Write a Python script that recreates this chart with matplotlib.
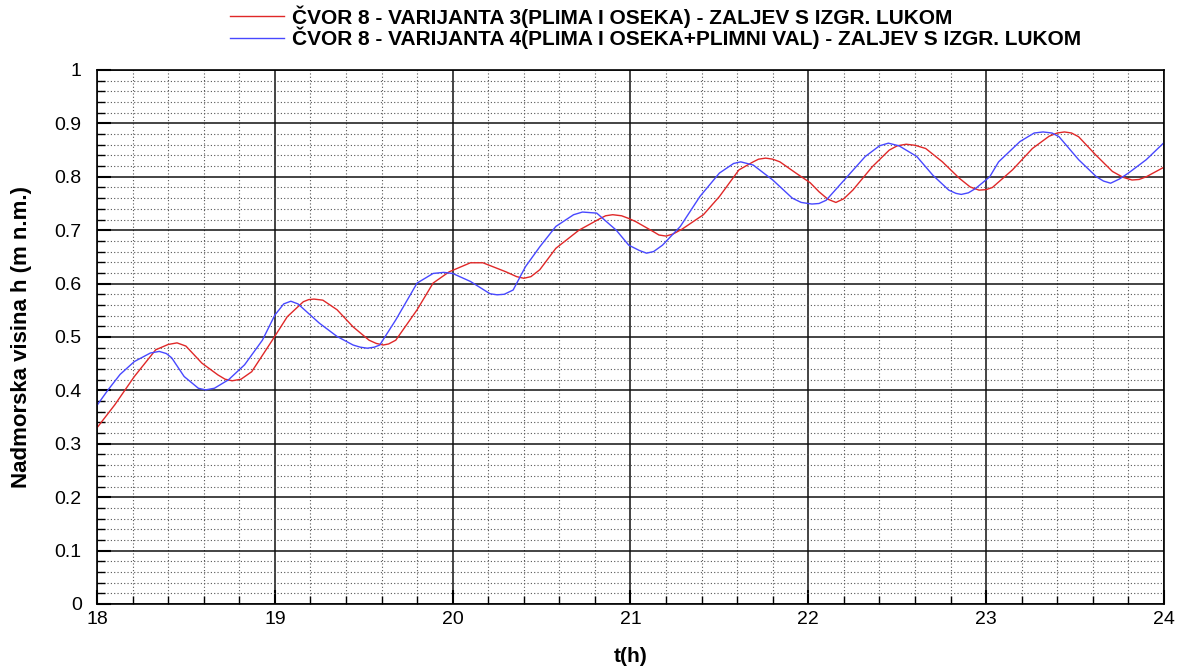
import matplotlib.pyplot as plt
from matplotlib.ticker import MultipleLocator

plt.rcParams['font.family'] = ['Liberation Sans', 'DejaVu Sans']

# vrijeme (h) i razina (m n.m.) ocitano s grafa
t_var3 = [18.00, 18.10, 18.21, 18.33, 18.40, 18.45, 18.50, 18.59, 18.68, 18.72,
          18.76, 18.81, 18.87, 18.98, 19.07, 19.16, 19.19, 19.22, 19.27, 19.35,
          19.44, 19.53, 19.57, 19.61, 19.64, 19.68, 19.80, 19.89, 19.98, 20.10,
          20.17, 20.30, 20.36, 20.40, 20.44, 20.49, 20.58, 20.71, 20.83, 20.86,
          20.90, 20.95, 20.99, 21.03, 21.13, 21.16, 21.20, 21.24, 21.29, 21.41,
          21.50, 21.61, 21.69, 21.72, 21.76, 21.80, 21.84, 21.93, 22.01, 22.06,
          22.11, 22.155, 22.20, 22.25, 22.36, 22.455, 22.50, 22.55, 22.60, 22.66,
          22.754, 22.85, 22.91, 22.96, 23.00, 23.035, 23.148, 23.26, 23.354, 23.40,
          23.44, 23.48, 23.52, 23.616, 23.71, 23.77, 23.82, 23.86, 23.90, 24.00]
h_var3 = [0.330, 0.373, 0.426, 0.476, 0.486, 0.489, 0.483, 0.451, 0.429, 0.421,
          0.418, 0.421, 0.435, 0.491, 0.538, 0.566, 0.570, 0.571, 0.569, 0.551,
          0.519, 0.494, 0.488, 0.485, 0.487, 0.494, 0.551, 0.601, 0.622, 0.639,
          0.639, 0.622, 0.613, 0.610, 0.613, 0.626, 0.666, 0.700, 0.722, 0.727,
          0.729, 0.727, 0.722, 0.716, 0.697, 0.691, 0.689, 0.693, 0.702, 0.729,
          0.763, 0.813, 0.828, 0.833, 0.835, 0.833, 0.828, 0.807, 0.789, 0.772,
          0.758, 0.752, 0.759, 0.775, 0.819, 0.850, 0.858, 0.861, 0.859, 0.853,
          0.828, 0.797, 0.781, 0.775, 0.776, 0.780, 0.813, 0.853, 0.876, 0.882,
          0.884, 0.882, 0.875, 0.841, 0.810, 0.799, 0.794, 0.795, 0.800, 0.818]

t_var4 = [18.00, 18.06, 18.13, 18.21, 18.30, 18.35, 18.39, 18.42, 18.49, 18.57,
          18.61, 18.66, 18.74, 18.83, 18.93, 19.00, 19.05, 19.09, 19.13, 19.25,
          19.35, 19.44, 19.48, 19.52, 19.56, 19.59, 19.68, 19.80, 19.89, 19.95,
          20.00, 20.10, 20.21, 20.25, 20.29, 20.34, 20.41, 20.49, 20.58, 20.68,
          20.73, 20.81, 20.92, 20.99, 21.05, 21.09, 21.13, 21.18, 21.28, 21.39,
          21.50, 21.58, 21.62, 21.69, 21.80, 21.91, 21.96, 22.02, 22.06, 22.10,
          22.21, 22.32, 22.40, 22.45, 22.51, 22.61, 22.70, 22.79, 22.83, 22.86,
          22.90, 22.94, 23.02, 23.07, 23.19, 23.27, 23.32, 23.37, 23.41, 23.52,
          23.62, 23.66, 23.70, 23.75, 23.80, 23.90, 24.00]
h_var4 = [0.372, 0.400, 0.430, 0.454, 0.470, 0.473, 0.469, 0.461, 0.426, 0.404,
          0.401, 0.404, 0.420, 0.448, 0.494, 0.541, 0.562, 0.567, 0.562, 0.526,
          0.501, 0.485, 0.481, 0.479, 0.481, 0.485, 0.532, 0.601, 0.619, 0.621,
          0.619, 0.604, 0.581, 0.579, 0.580, 0.588, 0.632, 0.669, 0.707, 0.729,
          0.734, 0.732, 0.700, 0.672, 0.662, 0.657, 0.660, 0.672, 0.707, 0.763,
          0.807, 0.825, 0.828, 0.822, 0.794, 0.760, 0.752, 0.749, 0.750, 0.756,
          0.797, 0.838, 0.858, 0.863, 0.858, 0.838, 0.803, 0.775, 0.769, 0.767,
          0.770, 0.778, 0.800, 0.828, 0.866, 0.882, 0.884, 0.882, 0.875, 0.832,
          0.800, 0.792, 0.788, 0.796, 0.807, 0.832, 0.864]

label_var3 = 'ČVOR 8 - VARIJANTA 3(PLIMA I OSEKA) - ZALJEV S IZGR. LUKOM'
label_var4 = 'ČVOR 8 - VARIJANTA 4(PLIMA I OSEKA+PLIMNI VAL) - ZALJEV S IZGR. LUKOM'

fig = plt.figure(figsize=(11.87, 6.68), dpi=100)
ax = fig.add_axes([97 / 1187, 1 - 604 / 668, 1067 / 1187, 534 / 668])

l3, = ax.plot(t_var3, h_var3, color='#e02828', lw=1.0, label=label_var3)
l4, = ax.plot(t_var4, h_var4, color='#4848ff', lw=1.0, label=label_var4)

ax.set_xlim(18, 24)
ax.set_ylim(0, 1)
ax.xaxis.set_major_locator(MultipleLocator(1))
ax.xaxis.set_minor_locator(MultipleLocator(0.2))
ax.yaxis.set_major_locator(MultipleLocator(0.1))
ax.yaxis.set_minor_locator(MultipleLocator(0.02))
ax.yaxis.set_major_formatter(plt.FuncFormatter(lambda v, p: f'{v:g}'))

ax.grid(which='major', color='#111111', lw=1.1, ls='-')
ax.grid(which='minor', color='#555555', lw=0.8, ls=(0, (1, 2)))
ax.set_axisbelow(True)

ax.tick_params(which='both', direction='in', top=False, right=False, colors='black')
ax.tick_params(which='major', length=10, width=1.5, labelsize=14)
ax.tick_params(axis='y', which='major', pad=11)
ax.tick_params(axis='x', which='major', pad=5)
ax.tick_params(which='minor', length=6, width=1)
for s in ax.spines.values():
    s.set_linewidth(1.2)

ax.set_xlabel('t(h)', fontsize=15, fontweight='bold', labelpad=14)
ax.set_ylabel('Nadmorska visina h (m n.m.)', fontsize=16, fontweight='bold', labelpad=16)

fig.legend(handles=[l3, l4], loc='upper left', bbox_to_anchor=(230 / 1187, 1 - 5 / 668),
           frameon=False, prop={'weight': 'bold', 'size': 15},
           handlelength=2.6, handletextpad=0.4, labelspacing=-0.05,
           borderpad=0, borderaxespad=0)

fig.savefig('out.png', dpi=100)
